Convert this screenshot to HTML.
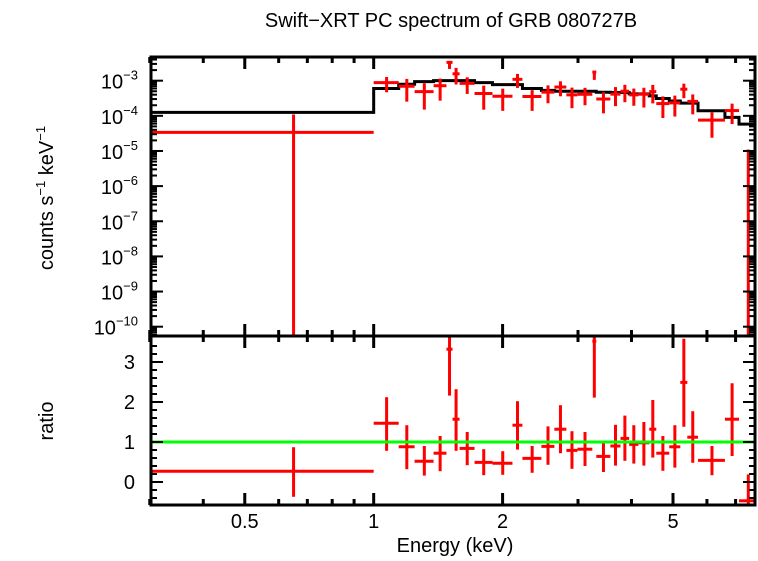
<!DOCTYPE html>
<html><head><meta charset="utf-8"><style>
html,body{margin:0;padding:0;background:#fff;}
svg text{font-family:"Liberation Sans",Arial,sans-serif;fill:#000;}
</style></head><body>
<svg id="chart" width="758" height="556" viewBox="0 0 758 556" xmlns="http://www.w3.org/2000/svg">
<text x="451" y="27" font-size="20" text-anchor="middle">Swift−XRT PC spectrum of GRB 080727B</text>
<g id="upper"></g>
<g id="lower"></g>
<text x="455" y="552" font-size="20" text-anchor="middle">Energy (keV)</text>
<text transform="translate(53,198) rotate(-90)" font-size="20" text-anchor="middle">counts s<tspan dy="-8" font-size="13">−1</tspan><tspan dy="8"> keV</tspan><tspan dy="-8" font-size="13">−1</tspan></text>
<text transform="translate(53,421) rotate(-90)" font-size="20" text-anchor="middle">ratio</text>
</svg>
<script>
// Bin edges (keV)
const binLo = [0.3,1.0,1.144,1.246,1.38,1.479,1.528,1.587,1.72,1.894,2.109,2.225,2.464,2.642,2.818,2.99,3.24,3.31,3.57,3.77,3.95,4.15,4.40,4.57,4.90,5.20,5.40,5.72,6.61,7.13];
const binHi = [1.0,1.144,1.246,1.38,1.479,1.528,1.587,1.72,1.894,2.109,2.225,2.464,2.642,2.818,2.99,3.24,3.31,3.57,3.77,3.95,4.15,4.40,4.57,4.90,5.20,5.40,5.72,6.61,7.13,7.86];
// Model (counts s^-1 keV^-1)
const model = [1.25e-4,6e-4,7.9e-4,9.4e-4,1e-3,1e-3,1e-3,1e-3,8.8e-4,7.7e-4,7.7e-4,6e-4,5.3e-4,5e-4,5e-4,5e-4,5e-4,4.7e-4,4.6e-4,4.6e-4,4.2e-4,4.2e-4,3.7e-4,3.1e-4,2.65e-4,2.3e-4,2.3e-4,1.4e-4,9e-5,5.8e-5];
// Ratio data/model and errors
const ratio = [0.27,1.47,0.88,0.52,0.72,3.32,1.57,0.84,0.49,0.47,1.42,0.59,0.89,1.32,0.79,0.82,3.52,0.64,0.9,1.09,0.94,0.98,1.32,0.72,0.88,2.49,1.12,0.54,1.57,-0.47];
const ratioErrLo = [0.64,0.69,0.56,0.36,0.45,1.16,0.79,0.42,0.32,0.29,0.61,0.36,0.46,0.6,0.46,0.42,1.41,0.39,0.49,0.56,0.48,0.57,0.71,0.44,0.52,1.11,0.64,0.37,0.92,0.66];
const ratioErrHi = [0.6,0.65,0.54,0.38,0.43,0.33,0.75,0.41,0.33,0.3,0.6,0.31,0.5,0.6,0.48,0.43,0.13,0.36,0.53,0.57,0.48,0.52,0.73,0.43,0.54,1.09,0.65,0.36,0.9,0.66];
const xTicksMajor = [0.5,1,2,5];
const xTicksMinor = [0.3,0.4,0.6,0.7,0.8,0.9,3,4,6,7];
const yExpTicks = [-3,-4,-5,-6,-7,-8,-9,-10];
const ratioTicks = [0,1,2,3];

const L=151,R=755,T=57,M=336,B=505;
const xmin=0.302,xmax=7.77;
const X=e=>L+(Math.log10(e)-Math.log10(xmin))/(Math.log10(xmax)-Math.log10(xmin))*(R-L);
const yTopExp=-2.326,yBotExp=-10.265;
const YU=v=>{let l=v>0?Math.log10(v):-20;let y=T+(yTopExp-l)/(yTopExp-yBotExp)*(M-T);return Math.max(T,Math.min(M,y));};
const rTop=3.65,rBot=-0.575;
const YL=v=>{let y=M+(rTop-v)/(rTop-rBot)*(B-M);return Math.max(M,Math.min(B,y));};
const NS='http://www.w3.org/2000/svg';
const svg=document.getElementById('chart');
const up=document.getElementById('upper'),lo=document.getElementById('lower');
function line(g,x1,y1,x2,y2,c,w){const l=document.createElementNS(NS,'line');l.setAttribute('x1',x1);l.setAttribute('y1',y1);l.setAttribute('x2',x2);l.setAttribute('y2',y2);l.setAttribute('stroke',c);l.setAttribute('stroke-width',w);g.appendChild(l);return l;}
function txt(g,x,y,s,anchor,size){const t=document.createElementNS(NS,'text');t.setAttribute('x',x);t.setAttribute('y',y);t.setAttribute('font-size',size||20);t.setAttribute('text-anchor',anchor||'middle');t.textContent=s;g.appendChild(t);return t;}

// model step line
let d='';
for(let i=0;i<model.length;i++){const y=YU(model[i]);d+=(i?'L':'M')+X(binLo[i])+' '+y+' L'+Math.min(R,X(binHi[i]))+' '+y+' ';}
const mp=document.createElementNS(NS,'path');mp.setAttribute('d',d);mp.setAttribute('fill','none');mp.setAttribute('stroke','#000');mp.setAttribute('stroke-width',3);


up.appendChild(mp);

// data points
for(let i=0;i<ratio.length;i++){
  const xc=X((binLo[i]+binHi[i])/2),x1=X(binLo[i]),x2=Math.min(R,X(binHi[i]));
  const g=document.createElementNS(NS,'g');
  
  
  up.appendChild(g);
  const v=ratio[i]*model[i],vl=(ratio[i]-ratioErrLo[i])*model[i],vh=(ratio[i]+ratioErrHi[i])*model[i];
  if(v>0) line(g,x1,YU(v),x2,YU(v),'#f00',3);
  line(g,xc,YU(vl),xc,YU(vh),'#f00',3);
  const g2=document.createElementNS(NS,'g');
  
  
  lo.appendChild(g2);
  line(g2,x1,YL(ratio[i]),x2,YL(ratio[i]),'#f00',3);
  line(g2,xc,YL(ratio[i]-ratioErrLo[i]),xc,YL(ratio[i]+ratioErrHi[i]),'#f00',3);
}
// unity line
const ul=line(lo,L,YL(1),R,YL(1),'#00ff00',3);



// frames
[[T,M],[M,B]].forEach(([a,b])=>{const r=document.createElementNS(NS,'rect');r.setAttribute('x',L);r.setAttribute('y',a);r.setAttribute('width',R-L);r.setAttribute('height',b-a);r.setAttribute('fill','none');r.setAttribute('stroke','#000');r.setAttribute('stroke-width',3);


svg.appendChild(r);});

// x ticks
const ax=document.createElementNS(NS,'g');svg.appendChild(ax);


xTicksMajor.forEach(e=>{const x=X(e);[[T,1],[M,-1],[M,1],[B,-1]].forEach(([y,s])=>line(ax,x,y,x,y+s*12,'#000',3));txt(ax,x,528,String(e));});
xTicksMinor.forEach(e=>{const x=X(e);[[T,1],[M,-1],[M,1],[B,-1]].forEach(([y,s])=>line(ax,x,y,x,y+s*6,'#000',3));});
// upper y ticks
const ay=document.createElementNS(NS,'g');svg.appendChild(ay);


for(let p=-11;p<=-2;p++){for(let k=1;k<10;k++){const v=k*Math.pow(10,p);const l=Math.log10(v);if(l>yTopExp||l<yBotExp)continue;const y=YU(v);const len=k==1?12:6;line(ay,L,y,L+len,y,'#000',2);line(ay,R,y,R-len,y,'#000',2);}}
yExpTicks.forEach(p=>{const y=YU(Math.pow(10,p));const t=txt(ay,138,y+8,'10','end',20);const s=document.createElementNS(NS,'tspan');s.setAttribute('dy',-9);s.setAttribute('font-size',13);s.textContent='−'+Math.abs(p);t.appendChild(s);});
// lower y ticks
const ar=document.createElementNS(NS,'g');svg.appendChild(ar);


for(let v=-0.4;v<=3.6;v+=0.2){const vv=Math.round(v*10)/10;const y=YL(vv);const maj=Math.abs(vv-Math.round(vv))<1e-6;const len=maj?12:6;line(ar,L,y,L+len,y,'#000',2);line(ar,R,y,R-len,y,'#000',2);}
ratioTicks.forEach(v=>txt(ar,135,YL(v)+7,String(v),'end',20));
</script>
</body></html>
